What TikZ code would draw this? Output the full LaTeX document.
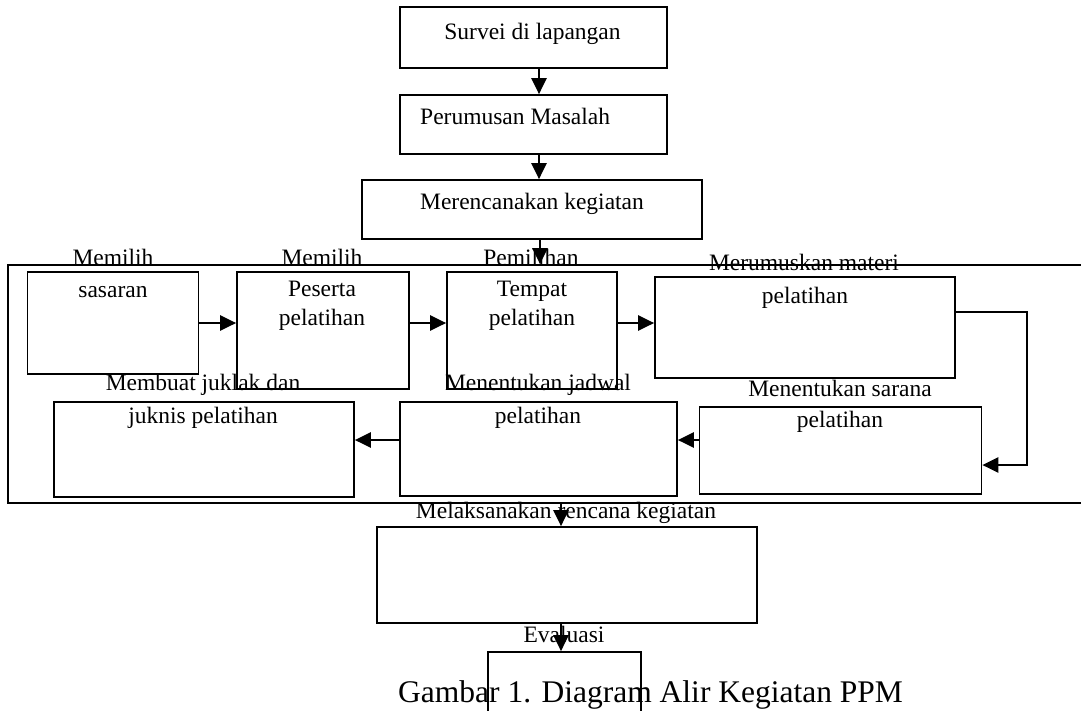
\documentclass[tikz,border=0pt]{standalone}
\usepackage{fontspec}
\setmainfont{Liberation Serif}
\usetikzlibrary{arrows.meta}

\begin{document}
\begin{tikzpicture}[x=1pt,y=-1pt,
  box/.style={draw,line width=1.7pt,inner sep=0pt},
  lbl/.style={inner sep=0pt,anchor=base,font=\fontsize{23.5}{28}\selectfont},
  arr/.style={line width=2.3pt,-{Triangle[length=16pt,width=15pt]}}]
\clip (0,0) rectangle (1081,710);
% kotak atas
\node[box,minimum width=267pt,minimum height=61pt] (survei) at (533.5,37.5) {};
\node[box,minimum width=267pt,minimum height=59pt] (rumus) at (533.5,124.5) {};
\node[box,minimum width=340pt,minimum height=59pt] (rencana) at (532,209.5) {};
% bingkai besar
\node[box,minimum width=1092pt,minimum height=238pt] (bingkai) at (554,384) {};
\node[box,minimum width=171pt,minimum height=102pt] (sasaran) at (113,323) {};
\node[box,minimum width=172pt,minimum height=117pt] (peserta) at (323,330.5) {};
\node[box,minimum width=170pt,minimum height=117pt] (tempat) at (532,330.5) {};
\node[box,minimum width=300pt,minimum height=101pt] (materi) at (805,327.5) {};
\node[box,minimum width=282pt,minimum height=87pt] (sarana) at (840.5,450.5) {};
\node[box,minimum width=277pt,minimum height=94pt] (jadwal) at (538.5,449) {};
\node[box,minimum width=300pt,minimum height=95pt] (juklak) at (204,449.5) {};
% kotak bawah
\node[box,minimum width=380pt,minimum height=96pt] (laksana) at (567,575) {};
\node[box,minimum width=153pt,minimum height=108pt] (evaluasi) at (564.5,706) {};

% teks
\node[lbl] (t1) at (532.5,39) {Survei di lapangan};
\node[lbl,anchor=base west] (t2) at (420,124) {Perumusan Masalah};
\node[lbl] (t3) at (532,209) {Merencanakan kegiatan};
\node[lbl] (t4a) at (113,265) {Memilih};
\node[lbl] (t4b) at (113,297) {sasaran};
\node[lbl] (t5a) at (322,265) {Memilih};
\node[lbl] (t5b) at (322,296) {Peserta};
\node[lbl] (t5c) at (322,325) {pelatihan};
\node[lbl] (t6a) at (531,265) {Pemilihan};
\node[lbl] (t6b) at (532,296) {Tempat};
\node[lbl] (t6c) at (532,325) {pelatihan};
\node[lbl] (t7a) at (804,270) {Merumuskan materi};
\node[lbl] (t7b) at (805,303) {pelatihan};
\node[lbl] (t8a) at (840,396) {Menentukan sarana};
\node[lbl] (t8b) at (840,427) {pelatihan};
\node[lbl] (t9a) at (538,390) {Menentukan jadwal};
\node[lbl] (t9b) at (538,423) {pelatihan};
\node[lbl] (t10a) at (203,390) {Membuat juklak dan};
\node[lbl] (t10b) at (203,423) {juknis pelatihan};
\node[lbl] (t11) at (566,518) {Melaksanakan rencana kegiatan};
\node[lbl] (t12) at (564,642) {Evaluasi};
\node[lbl,anchor=base west,font=\fontsize{31.5}{38}\selectfont] (cap) at (398,702) {Gambar 1. Diagram Alir Kegiatan PPM};

% panah
\draw[arr] ([xshift=5.5pt]survei.south) -- ([xshift=5.5pt]rumus.north);
\draw[arr] ([xshift=5.5pt]rumus.south) -- ([xshift=7pt]rencana.north);
\draw[arr] ([xshift=8pt]rencana.south) -- ([xshift=8pt]rencana.south |- bingkai.north);
\draw[arr] (sasaran.east) -- (peserta.west |- sasaran.east);
\draw[arr] (peserta.east |- sasaran.east) -- (tempat.west |- sasaran.east);
\draw[arr] (tempat.east |- sasaran.east) -- (materi.west |- sasaran.east);
\draw[arr] ([yshift=15.5pt]materi.east) -- ++(71,0) |- ([yshift=-14.5pt]sarana.east);
\draw[arr] ([yshift=10.5pt]sarana.west) -- ([yshift=9pt]jadwal.east);
\draw[arr] ([yshift=9pt]jadwal.west) -- ([yshift=9.5pt]juklak.east);
\draw[arr] ([xshift=-6pt]laksana.north |- bingkai.south) -- ([xshift=-6pt]laksana.north);
\draw[arr] ([xshift=-6pt]laksana.south) -- ([xshift=-3.5pt]evaluasi.north);
\end{tikzpicture}
\end{document}
